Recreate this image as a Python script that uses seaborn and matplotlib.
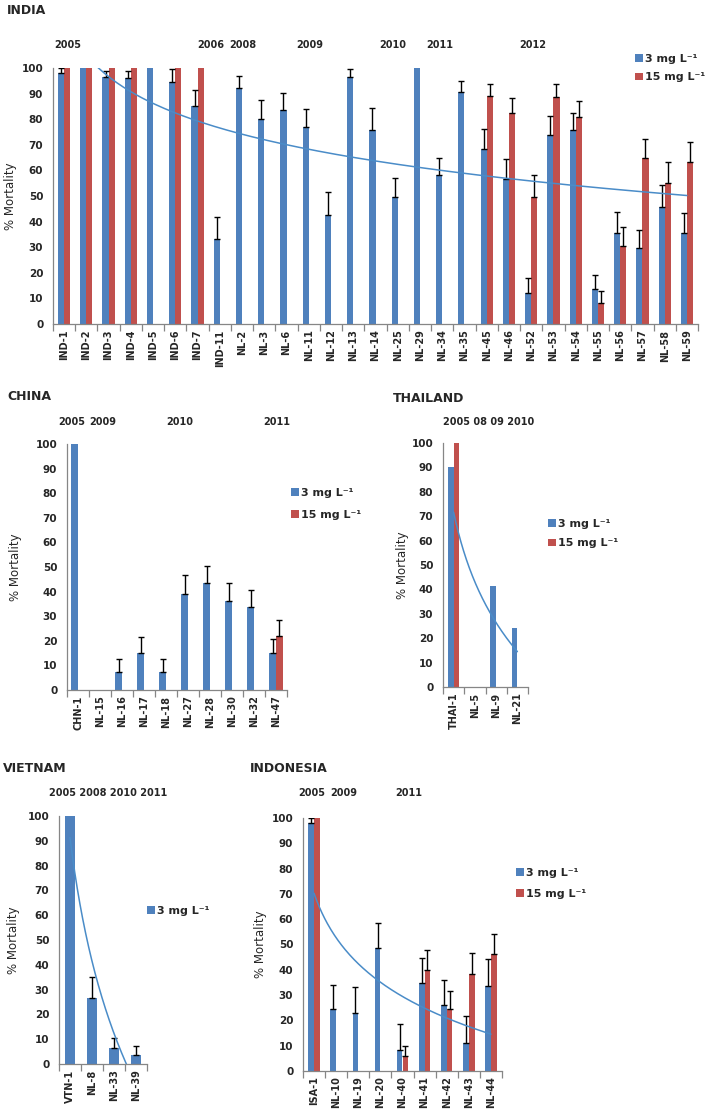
import numpy as np
import pandas as pd
import matplotlib
matplotlib.use('Agg')
import matplotlib.pyplot as plt
import matplotlib.transforms as mtransforms
import seaborn as sns

sns.set_style('white')
plt.rcParams['font.family'] = ['DejaVu Sans']

LOW = '3 mg L⁻¹'
HIGH = '15 mg L⁻¹'
BLUE = '#4F81BD'
RED = '#C0504D'
TREND = '#4A8CC8'

# INDIA
india_names = ['IND-1', 'IND-2', 'IND-3', 'IND-4', 'IND-5', 'IND-6', 'IND-7', 'IND-11',
               'NL-2', 'NL-3', 'NL-6', 'NL-11', 'NL-12', 'NL-13', 'NL-14', 'NL-25', 'NL-29',
               'NL-34', 'NL-35', 'NL-45', 'NL-46', 'NL-52', 'NL-53', 'NL-54', 'NL-55',
               'NL-56', 'NL-57', 'NL-58', 'NL-59']
india_low = [98, 100, 96.5, 96, 100, 94.5, 85, 33.3, 92.2, 80, 83.4, 77, 42.6, 96.6, 75.6,
             49.5, 100, 58.1, 90.6, 68.4, 56.7, 12, 73.9, 75.9, 13.6, 35.7, 29.6, 45.6, 35.5]
india_low_err = [2, 0, 2.5, 3, 0, 5.2, 6.5, 8.6, 4.7, 7.4, 6.7, 6.8, 8.9, 2.9, 8.8,
                 7.5, 0, 6.7, 4.3, 7.9, 7.6, 5.9, 7.3, 6.5, 5.7, 8, 7.3, 8.8, 8]
india_high = [100, 100, 100, 100, np.nan, 100, 100, np.nan, np.nan, np.nan, np.nan, np.nan,
              np.nan, np.nan, np.nan, np.nan, np.nan, np.nan, np.nan, 89, 82.4, 49.5, 88.8,
              81, 8.3, 30.4, 64.9, 55, 63.2]
india_high_err = [0, 0, 0, 0, 0, 0, 0, 0, 0, 0, 0, 0, 0, 0, 0, 0, 0, 0, 0,
                  4.7, 5.9, 8.6, 4.9, 6.1, 4.7, 7.6, 7.3, 8.1, 7.7]
india_years = ['2005', '2006', '2008', '2009', '2010', '2011', '2012']

# CHINA
china_names = ['CHN-1', 'NL-15', 'NL-16', 'NL-17', 'NL-18', 'NL-27', 'NL-28', 'NL-30',
               'NL-32', 'NL-47']
china_low = [100, 0, 7.5, 15.2, 7.5, 39.2, 43.5, 36.3, 33.7, 15.2]
china_low_err = [0, 0, 5.1, 6.3, 5.1, 7.5, 7, 7.2, 7.1, 5.5]
china_high = [np.nan] * 9 + [22.1]
china_high_err = [0] * 9 + [6.5]
china_years = ['2005', '2009', '2010', '2011']

# THAILAND
thai_names = ['THAI-1', 'NL-5', 'NL-9', 'NL-21']
thai_low = [90, np.nan, 41.5, 24]
thai_low_err = [0, 0, 0, 0]
thai_high = [100, np.nan, np.nan, np.nan]
thai_high_err = [0, 0, 0, 0]
thai_years = ['2005 08 09 2010']

# VIETNAM
viet_names = ['VTN-1', 'NL-8', 'NL-33', 'NL-39']
viet_low = [100, 26.5, 6.6, 3.7]
viet_low_err = [0, 8.5, 4, 3.4]
viet_years = ['2005 2008 2010 2011']

# INDONESIA
indo_names = ['ISA-1', 'NL-10', 'NL-19', 'NL-20', 'NL-40', 'NL-41', 'NL-42', 'NL-43', 'NL-44']
indo_low = [98, 24.4, 22.8, 48.5, 8.4, 34.7, 26, 11.2, 33.7]
indo_low_err = [2, 9.7, 10.3, 9.9, 10.3, 10.1, 9.8, 10.4, 10.4]
indo_high = [100, np.nan, np.nan, np.nan, 5.8, 39.9, 24.5, 38.3, 46.1]
indo_high_err = [0, 0, 0, 0, 3.9, 7.8, 7, 8.2, 7.9]
indo_years = ['2005', '2009', '2011']

W, H = 709, 1113
fig = plt.figure(figsize=(W / 100, H / 100), dpi=100)


def px_axes(x0, x1, ytop, ybot):
    return fig.add_axes([x0 / W, 1 - ybot / H, (x1 - x0) / W, (ybot - ytop) / H])


def panel(ax, names, low, low_err, high=None, high_err=None, width=0.55,
          trend=True, ylab_x=-0.1):
    rows = []
    for i, n in enumerate(names):
        rows.append((n, LOW, low[i], low_err[i]))
        if high is not None:
            rows.append((n, HIGH, high[i], high_err[i]))
    df = pd.DataFrame(rows, columns=['name', 'dose', 'val', 'err'])
    levels = [LOW, HIGH] if high is not None else [LOW]
    sns.barplot(data=df, x='name', y='val', hue='dose', order=names, hue_order=levels,
                palette=[BLUE, RED][:len(levels)], width=width, errorbar=None,
                saturation=1, linewidth=0, edgecolor='none', ax=ax, legend=True)
    errs = {(r.name, r.dose): r.err for r in df.itertuples()}
    for k, lev in enumerate(levels):
        for p in ax.containers[k]:
            h = p.get_height()
            if np.isnan(h):
                continue
            cx = p.get_x() + p.get_width() / 2
            e = errs.get((names[int(round(cx))], lev), 0)
            if e > 0:
                ax.errorbar(cx, h, yerr=[[0], [e]], fmt='none', ecolor='black',
                            elinewidth=1.0, capsize=2.5, capthick=1.0)
    if trend:
        # logarithmic trendline of the 3 mg series (blank counted as 0)
        xi = np.arange(1, len(names) + 1)
        yv = np.nan_to_num(np.array(low, dtype=float))
        b, a = np.polyfit(np.log(xi), yv, 1)
        xs = np.linspace(1, len(names), 200)
        sns.lineplot(x=xs - 1, y=a + b * np.log(xs), color=TREND, lw=1.1, ax=ax)
    ax.set_ylim(0, 100)
    ax.set_xlim(-0.5, len(names) - 0.5)
    ax.set_yticks(range(0, 101, 10))
    ax.set_xticks(np.arange(len(names)))
    ax.set_xticks(np.arange(len(names) + 1) - 0.5, minor=True)
    ax.set_xticklabels(names, rotation=90, fontsize=7, fontweight='bold')
    ax.tick_params(axis='x', which='major', length=0, pad=4)
    ax.tick_params(axis='x', which='minor', length=5, color='#868686', width=0.9)
    ax.tick_params(axis='y', length=4, color='#868686', width=0.9, labelsize=7.5, pad=3)
    for t in ax.get_yticklabels():
        t.set_fontweight('bold')
    ax.xaxis.set_tick_params(which='both', bottom=True)
    for s in ['top', 'right']:
        ax.spines[s].set_visible(False)
    for s in ['left', 'bottom']:
        ax.spines[s].set_color('#868686')
        ax.spines[s].set_linewidth(0.9)
    ax.set_xlabel('')
    ax.set_ylabel('% Mortality', fontsize=8.5)
    ax.yaxis.set_label_coords(ylab_x, 0.5)
    ax.grid(False)


def legend(ax, xpx, ypx, spacing):
    h, l = ax.get_legend_handles_labels()
    ax.legend(h, l, loc='upper left', bbox_to_anchor=(xpx / W, 1 - ypx / H),
              bbox_transform=fig.transFigure, frameon=False, borderpad=0,
              borderaxespad=0, handlelength=0.7, handleheight=0.7, handletextpad=0.2,
              labelspacing=spacing, prop={'weight': 'bold', 'size': 8})


def years(ax, labels, xs, y):
    tr = mtransforms.blended_transform_factory(ax.transData, ax.transAxes)
    for lab, x in zip(labels, xs):
        ax.text(x, y, lab, transform=tr, ha='center', va='center', fontsize=7,
                fontweight='bold', clip_on=False)


ax1 = px_axes(53, 698, 68, 324)
panel(ax1, india_names, india_low, india_low_err, india_high, india_high_err,
      width=0.55, ylab_x=-0.056)
legend(ax1, 635, 54, 0.75)
years(ax1, india_years, [0.17, 6.6, 8.04, 11.06, 14.79, 16.9, 21.08], 1.09)

ax2 = px_axes(67, 287, 444, 690)
panel(ax2, china_names, china_low, china_low_err, china_high, china_high_err,
      width=0.62, trend=False, ylab_x=-0.205)
legend(ax2, 291, 488, 1.1)
years(ax2, china_years, [-0.27, 1.14, 4.64, 9.05], 1.089)

ax3 = px_axes(443, 528, 443, 687)
panel(ax3, thai_names, thai_low, thai_low_err, thai_high, thai_high_err,
      width=0.55, ylab_x=-0.40)
legend(ax3, 548, 519, 0.85)
years(ax3, thai_years, [1.64], 1.086)

ax4 = px_axes(59, 147, 816, 1064)
panel(ax4, viet_names, viet_low, viet_low_err, width=0.41, ylab_x=-0.443)
legend(ax4, 147, 906, 0.8)
years(ax4, viet_years, [1.73], 1.093)

ax5 = px_axes(303, 502, 818, 1071)
panel(ax5, indo_names, indo_low, indo_low_err, indo_high, indo_high_err,
      width=0.52, ylab_x=-0.181)
legend(ax5, 516, 868, 1.0)
years(ax5, indo_years, [-0.12, 1.35, 4.27], 1.099)

for txt, xp, yp in [('INDIA', 7, 11), ('CHINA', 7, 397), ('THAILAND', 393, 398),
                    ('VIETNAM', 3, 768), ('INDONESIA', 250, 768)]:
    fig.text(xp / W, 1 - yp / H, txt, ha='left', va='center', fontsize=9, fontweight='bold')

fig.savefig('out.png', dpi=100)
